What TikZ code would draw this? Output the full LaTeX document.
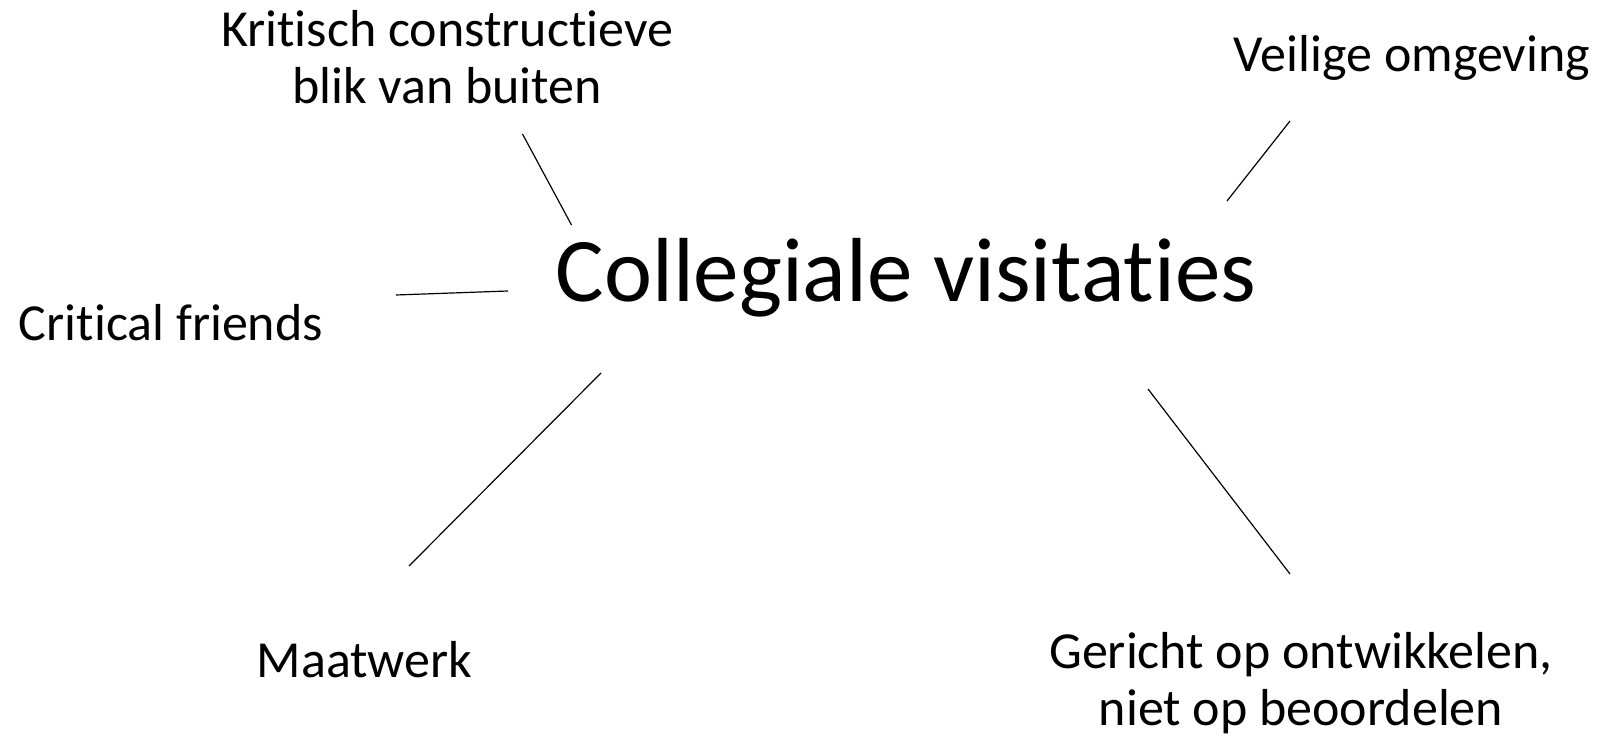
\documentclass[tikz,border=0pt]{standalone}
\usepackage{fontspec}
\setmainfont[Ligatures=NoCommon]{Carlito}
\begin{document}
\begin{tikzpicture}[x=0.5pt,y=-0.5pt]
		\tikzstyle{every node}+=[inner sep=0pt]
		\tikzstyle{idea}=[anchor=base,align=center,font=\fontsize{26}{28.5}\selectfont]
		\tikzstyle{spoke}=[black,line width=0.6pt]
		\useasboundingbox (0,0) rectangle (1601,737);
		\node [anchor=base,font=\fontsize{45.5}{50}\selectfont] (main) at (906,302) {Collegiale visitaties};
		\node [idea] (kritisch) at (447,104) {Kritisch constructieve\\blik van buiten};
		\node [idea] (veilig) at (1412,72) {Veilige omgeving};
		\node [idea] (critical) at (171,341) {Critical friends};
		\node [idea] (maatwerk) at (364.5,677) {Maatwerk};
		\node [idea] (gericht) at (1301,725) {Gericht op ontwikkelen,\\niet op beoordelen};
		\coordinate (kritisch-a) at (522.5,134);
		\coordinate (kritisch-b) at (571.5,225);
		\coordinate (veilig-a) at (1290,121);
		\coordinate (veilig-b) at (1227,201);
		\coordinate (critical-a) at (396,295);
		\coordinate (critical-b) at (508,291);
		\coordinate (maatwerk-a) at (601,373);
		\coordinate (maatwerk-b) at (409,566);
		\coordinate (gericht-a) at (1148,389);
		\coordinate (gericht-b) at (1290,574);
		\draw [spoke] (kritisch-a) -- (kritisch-b);
		\draw [spoke] (veilig-a) -- (veilig-b);
		\draw [spoke] (critical-a) -- (critical-b);
		\draw [spoke] (maatwerk-a) -- (maatwerk-b);
		\draw [spoke] (gericht-a) -- (gericht-b);
	\end{tikzpicture}
\end{document}
